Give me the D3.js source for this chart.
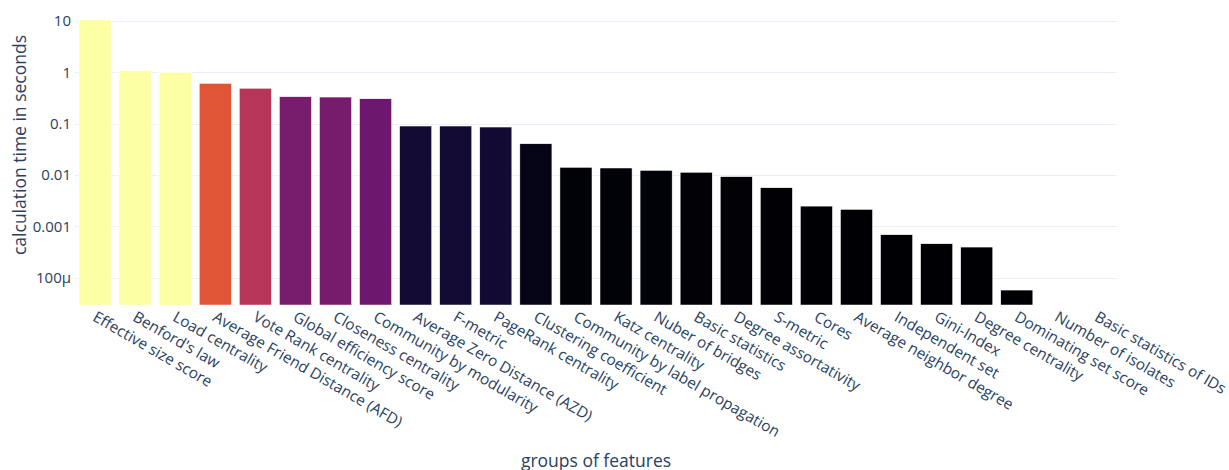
<!DOCTYPE html>
<html>
<head>
<meta charset="utf-8">
<script src="https://cdn.jsdelivr.net/npm/d3@7/dist/d3.min.js"></script>
<style>
  html, body { margin: 0; padding: 0; background: #fff; }
  svg { display: block; font-family: "Open Sans", sans-serif; }
</style>
</head>
<body>
<svg id="chart" width="1229" height="470"></svg>
<script>
const categories = [
  "Effective size score", "Benford's law", "Load centrality",
  "Average Friend Distance (AFD)", "Vote Rank centrality", "Global efficiency score",
  "Closeness centrality", "Community by modularity", "Average Zero Distance (AZD)",
  "F-metric", "PageRank centrality", "Clustering coefficient",
  "Community by label propagation", "Katz centrality", "Nuber of bridges",
  "Basic statistics", "Degree assortativity", "S-metric", "Cores",
  "Average neighbor degree", "Independent set", "Gini-Index", "Degree centrality",
  "Dominating set score", "Number of isolates", "Basic statistics of IDs"
];
const times = [
  10.5, 1.07, 1.0, 0.61, 0.49, 0.335, 0.33, 0.306, 0.09, 0.09, 0.086, 0.0406,
  0.0141, 0.0137, 0.0123, 0.0113, 0.00927, 0.00565, 0.00248, 0.00214,
  0.000686, 0.000458, 0.000395, 0.0000574, 0.000012, 0.000012
];
const yTickValues = [1e-4, 1e-3, 1e-2, 1e-1, 1, 10];
const yTickLabels = ["100µ", "0.001", "0.01", "0.1", "1", "10"];

const svg = d3.select("#chart");
const m = { left: 75, right: 1117, top: 20, bottom: 305 };
const textColor = "#2a3f5f";

const x = d3.scaleBand().domain(categories).range([m.left, m.right]).paddingInner(0.2).paddingOuter(0.1);
const y = d3.scaleLog().domain([Math.pow(10, -4.532), Math.pow(10, 1.0195)]).range([m.bottom, m.top]);
const color = d3.scaleSequential(d3.interpolateInferno).domain([0, 1]).clamp(true);

svg.append("defs").append("clipPath").attr("id", "clip")
  .append("rect").attr("x", m.left).attr("y", m.top - 2)
  .attr("width", m.right - m.left).attr("height", m.bottom - m.top + 2);

// grid
svg.append("g").selectAll("line").data(yTickValues).join("line")
  .attr("x1", m.left).attr("x2", m.right)
  .attr("y1", d => Math.round(y(d)) + 0.5).attr("y2", d => Math.round(y(d)) + 0.5)
  .attr("stroke", "#ebf0f8").attr("stroke-width", 1);

// bars
svg.append("g").attr("clip-path", "url(#clip)").selectAll("rect").data(categories).join("rect")
  .attr("x", d => x(d))
  .attr("width", x.bandwidth())
  .attr("y", (d, i) => Math.min(y(times[i]), m.bottom))
  .attr("height", (d, i) => Math.max(0, m.bottom - y(times[i])))
  .attr("fill", (d, i) => color(times[i]))
  .attr("stroke", "#ffffff").attr("stroke-width", 0.5);

// y axis
const yAxis = d3.axisLeft(y).tickValues(yTickValues)
  .tickFormat((d, i) => yTickLabels[yTickValues.indexOf(d)]).tickSize(0).tickPadding(4);
const gy = svg.append("g").attr("transform", `translate(${m.left},0)`).call(yAxis);
gy.select(".domain").remove();
gy.selectAll("text").attr("fill", textColor).attr("font-size", 15)
  .attr("font-family", "'Open Sans', sans-serif");

// x axis
const xAxis = d3.axisBottom(x).tickSize(0).tickPadding(0);
const gx = svg.append("g").attr("transform", `translate(0,${m.bottom})`).call(xAxis);
gx.select(".domain").remove();
gx.selectAll("text")
  .attr("fill", textColor).attr("font-size", 15.4)
  .attr("font-family", "'Open Sans', sans-serif")
  .attr("text-anchor", "start")
  .attr("dy", null)
  .attr("y", 0)
  .attr("transform", "translate(3,4) rotate(30)")
  .attr("dominant-baseline", "hanging");

// titles
svg.append("text").attr("x", 596).attr("y", 467).attr("text-anchor", "middle")
  .attr("fill", textColor).attr("font-size", 17.5).text("groups of features");
svg.append("text").attr("transform", "translate(26,145) rotate(-90)").attr("text-anchor", "middle")
  .attr("fill", textColor).attr("font-size", 17.5).text("calculation time in seconds");
</script>
</body>
</html>
